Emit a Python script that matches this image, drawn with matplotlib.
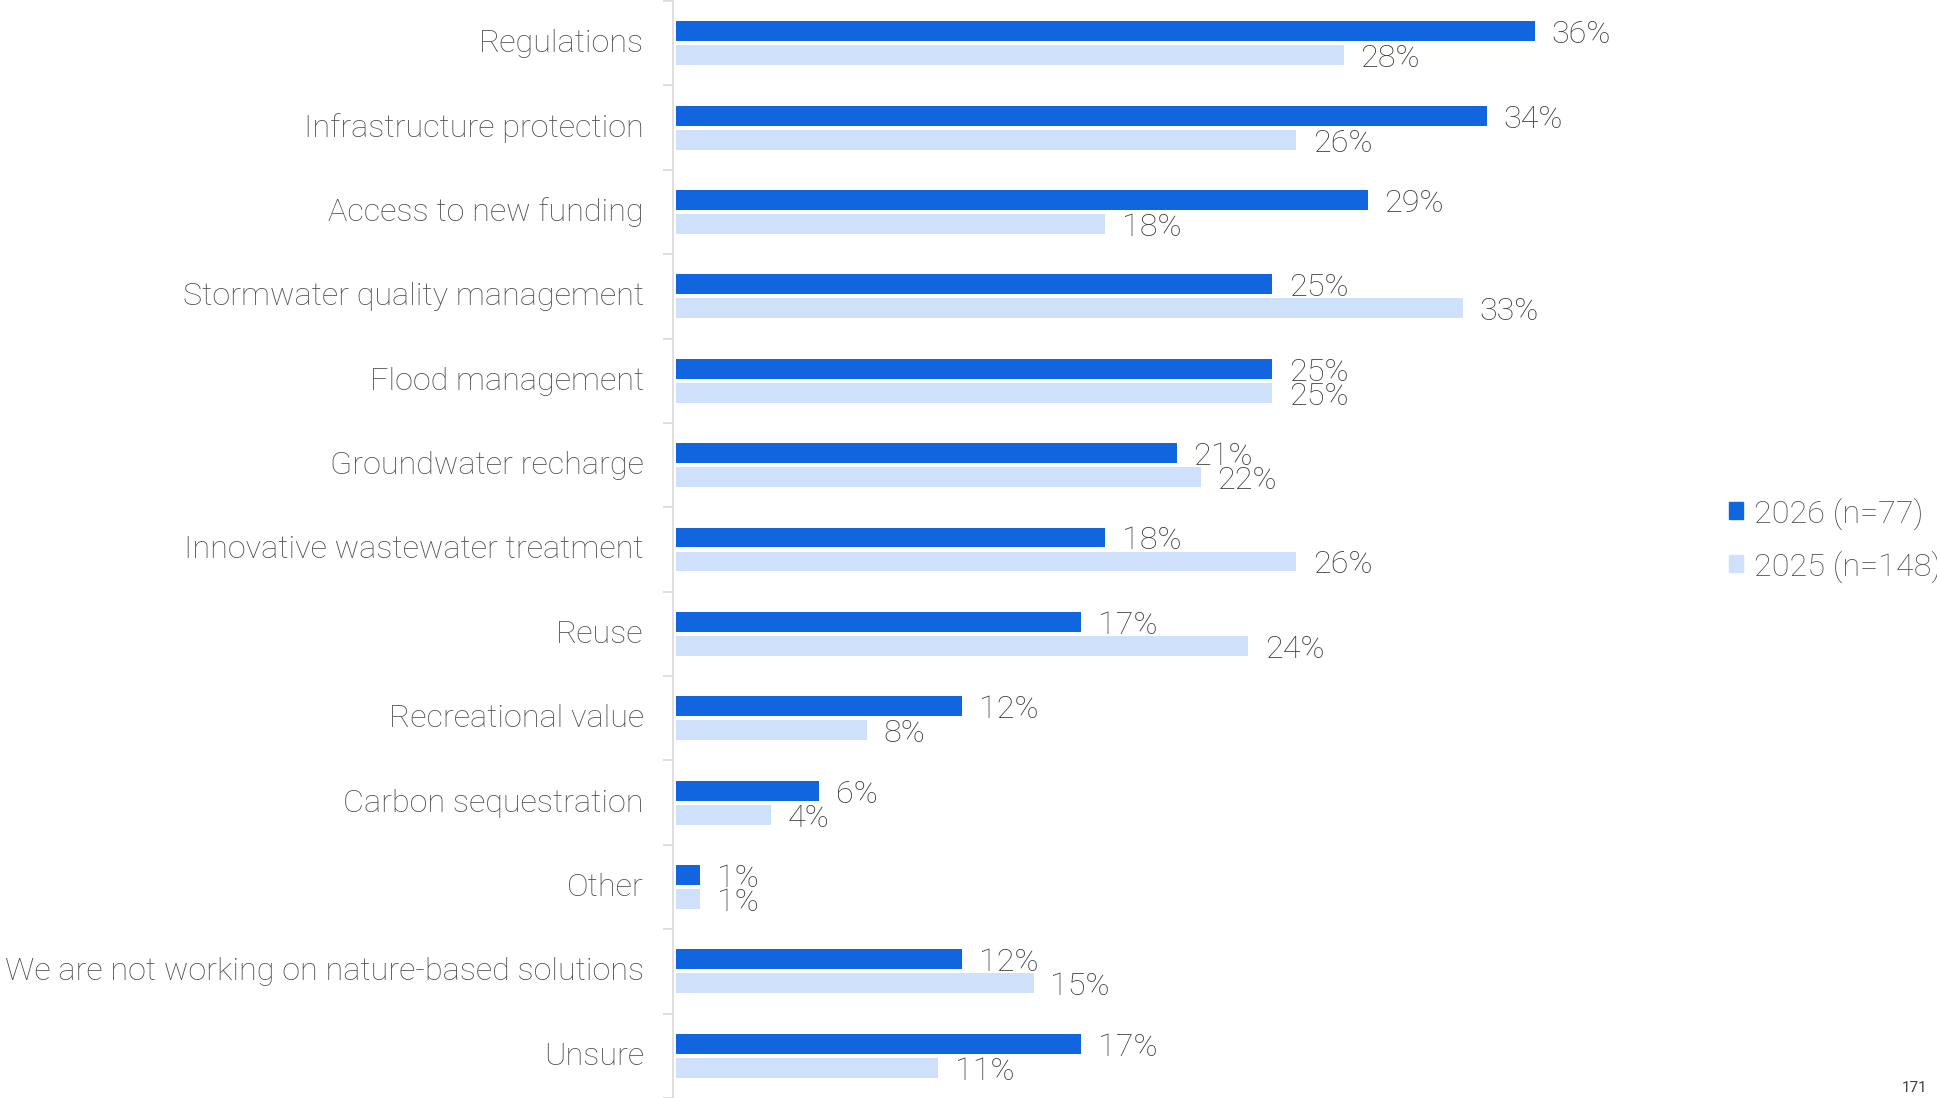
import matplotlib.pyplot as plt
import matplotlib.transforms as mtransforms
from matplotlib.patches import Patch

plt.rcParams['font.family'] = ['Roboto', 'DejaVu Sans']

categories = ['Regulations', 'Infrastructure protection', 'Access to new funding',
              'Stormwater quality management', 'Flood management', 'Groundwater recharge',
              'Innovative wastewater treatment', 'Reuse', 'Recreational value',
              'Carbon sequestration', 'Other', 'We are not working on nature-based solutions',
              'Unsure']
vals_2026 = [36, 34, 29, 25, 25, 21, 18, 17, 12, 6, 1, 12, 17]
vals_2025 = [28, 26, 18, 33, 25, 22, 26, 24, 8, 4, 1, 15, 11]
series_names = ['2026 (n=77)', '2025 (n=148)']

dark = '#1166E0'
light = '#CFE0FA'
label_grey = '#505050'
value_grey = '#3c3c3c'
fs = 23.3

W, H = 1937, 1098
fig = plt.figure(figsize=(W / 100, H / 100), dpi=100)
ax_left, ax_right = 673, 1650
ax = fig.add_axes([ax_left / W, 0, (ax_right - ax_left) / W, 1 - 1 / H])

px_per_pct = 23.85
ax.set_xlim(-3 / px_per_pct, (ax_right - ax_left - 3) / px_per_pct)
ax.set_ylim(len(categories) - 0.5, -0.5)

ys = list(range(len(categories)))
h = 0.236
off = 0.142
b1 = ax.barh([y - off for y in ys], vals_2026, height=h, color=dark)
b2 = ax.barh([y + off for y in ys], vals_2025, height=h, color=light)

for bars, vals in ((b1, vals_2026), (b2, vals_2025)):
    for bar, v in zip(bars, vals):
        ax.annotate(f'{v}%', (v, bar.get_y() + bar.get_height() / 2),
                    xytext=(12, -2.5), textcoords='offset points',
                    va='center', ha='left', fontsize=fs, color=value_grey,
                    fontweight='light')

# category labels at the centres, ticks at the boundaries
ax.set_yticks(ys)
ax.set_yticklabels(categories, fontsize=fs, color=label_grey, fontweight='light')
ax.tick_params(axis='y', which='major', length=0, pad=21)
shift = mtransforms.ScaledTranslation(0, 2.5 / 100, fig.dpi_scale_trans)
for lab in ax.get_yticklabels():
    lab.set_transform(lab.get_transform() + shift)
ax.set_yticks([y - 0.5 for y in ys] + [len(ys) - 0.5], minor=True)
ax.tick_params(axis='y', which='minor', length=7, color='#d9d9d9', width=1.2)
ax.set_xticks([])

for s in ['top', 'right', 'bottom']:
    ax.spines[s].set_visible(False)
ax.spines['left'].set_color('#d9d9d9')
ax.spines['left'].set_linewidth(1.2)

handles = [Patch(color=dark), Patch(color=light)]
fig.legend(handles, series_names, loc='center left', bbox_to_anchor=(1700 / W, 1 - 540 / H),
           frameon=False, handlelength=0.42, handleheight=0.42,
           handletextpad=0.36, labelspacing=0.64, labelcolor=label_grey,
           prop={'weight': 'light', 'size': fs})

fig.text(1915 / W, 1 - 1088 / H, '171', fontsize=11, color='#404040',
         ha='center', va='center')

fig.savefig('out.png', dpi=100)
